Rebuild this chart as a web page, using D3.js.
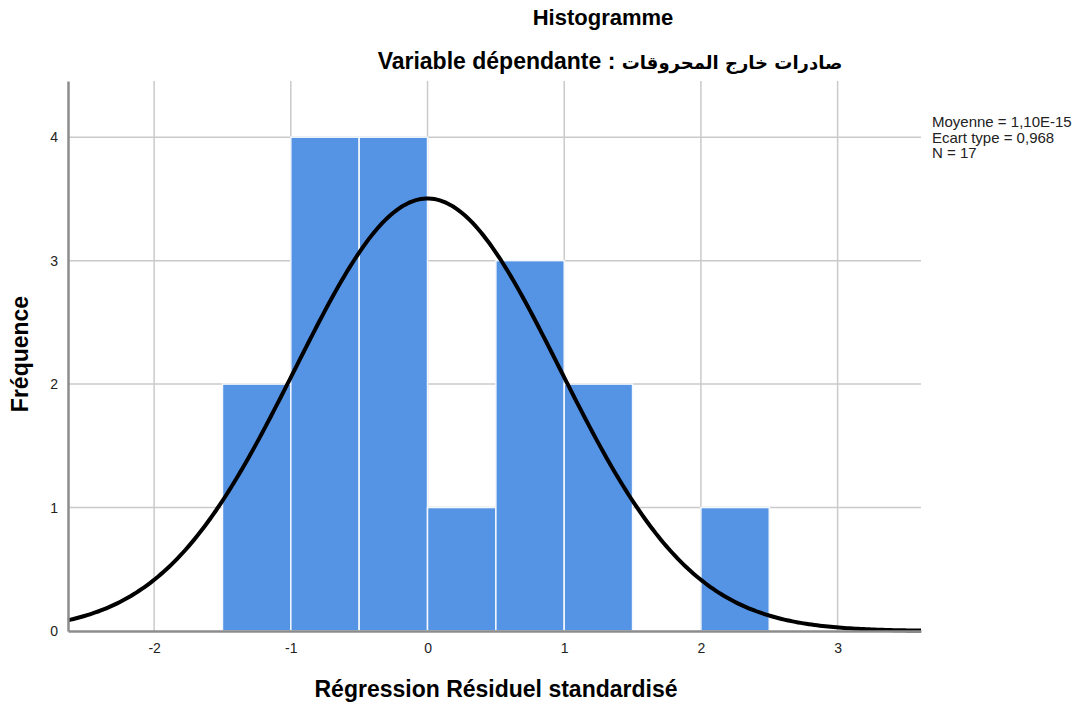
<!DOCTYPE html>
<html>
<head>
  <meta charset="utf-8">
  <title>Histogramme</title>
  <script src="https://d3js.org/d3.v7.min.js"></script>
  <style>
    html, body { margin: 0; padding: 0; background: #fff; overflow: hidden; }
    svg { display: block; }
    text { font-family: "Liberation Sans", Arial, "DejaVu Sans", sans-serif; }
  </style>
</head>
<body>
  <svg width="1082" height="708" id="mainsvg"></svg>
  <script>
    // bins of standardized residuals (width 0.5) and their counts
    const binStarts = [-1.5, -1, -0.5, 0, 0.5, 1, 2];
    const binCounts = [2, 4, 4, 1, 3, 2, 1];
    const binWidth = 0.5;
    const xTicks = [-2, -1, 0, 1, 2, 3];
    const yTicks = [0, 1, 2, 3, 4];
    const meanVal = 1.10e-15, sdVal = 0.968, nVal = 17;
    const legendLines = ['Moyenne = 1,10E-15', 'Ecart type = 0,968', 'N = 17'];

    const svg = d3.select('#mainsvg');
    const margin = { top: 81, right: 161, bottom: 77, left: 68 };
    const innerWidth = 1082 - margin.left - margin.right;
    const innerHeight = 708 - margin.top - margin.bottom;

    const xScale = d3.scaleLinear().domain([-2.63, 3.61]).range([0, innerWidth]);
    const yScale = d3.scaleLinear().domain([0, 4.455]).range([innerHeight, 0]);

    const g = svg.append('g').attr('transform', `translate(${margin.left}, ${margin.top})`);

    // grid
    g.selectAll('.vgrid').data(xTicks).join('line')
      .attr('x1', d => xScale(d)).attr('x2', d => xScale(d))
      .attr('y1', 0).attr('y2', innerHeight)
      .attr('stroke', '#cacaca').attr('stroke-width', 1.5);
    g.selectAll('.hgrid').data(yTicks.slice(1)).join('line')
      .attr('x1', 0).attr('x2', innerWidth)
      .attr('y1', d => yScale(d)).attr('y2', d => yScale(d))
      .attr('stroke', '#cacaca').attr('stroke-width', 1.5);

    // bars
    g.selectAll('.bar').data(binStarts).join('rect')
      .attr('x', d => xScale(d))
      .attr('width', d => xScale(d + binWidth) - xScale(d))
      .attr('y', (d, i) => yScale(binCounts[i]))
      .attr('height', (d, i) => innerHeight - yScale(binCounts[i]))
      .attr('fill', '#5594e4')
      .attr('stroke', '#f4f8fd').attr('stroke-width', 1.5);

    // normal curve from the stated mean / sd / N
    const curveXs = d3.range(-2.63, 3.615, 0.02);
    const pdf = x => nVal * binWidth / (sdVal * Math.sqrt(2 * Math.PI)) *
      Math.exp(-0.5 * Math.pow((x - meanVal) / sdVal, 2));
    g.append('path')
      .datum(curveXs)
      .attr('d', d3.line().x(d => xScale(d)).y(d => yScale(pdf(d))))
      .attr('fill', 'none').attr('stroke', '#000').attr('stroke-width', 4);

    // axes
    const xAxis = d3.axisBottom(xScale).tickValues(xTicks).tickSize(0).tickPadding(12)
      .tickFormat(d => d < 0 ? '-' + Math.abs(d) : d);
    const yAxis = d3.axisLeft(yScale).tickValues(yTicks).tickSize(0).tickPadding(10)
      .tickFormat(d3.format('d'));
    const xg = g.append('g').attr('transform', `translate(0, ${innerHeight})`).call(xAxis);
    const yg = g.append('g').call(yAxis);
    [xg, yg].forEach(a => {
      a.select('.domain').attr('stroke', '#8c8c8c').attr('stroke-width', 2.5);
      a.selectAll('text').attr('font-size', 14).attr('fill', '#222')
        .attr('font-family', '"Liberation Sans", Arial, sans-serif');
    });

    // titles
    svg.append('text').text('Histogramme')
      .attr('x', 603).attr('y', 25).attr('text-anchor', 'middle')
      .attr('font-size', 22).attr('font-weight', 'bold');
    const sub = svg.append('text')
      .attr('x', 610).attr('y', 69).attr('text-anchor', 'middle')
      .attr('direction', 'ltr').attr('font-weight', 'bold');
    sub.append('tspan').text('Variable dépendante : ').attr('font-size', 23);
    sub.append('tspan').text('صادرات خارج المحروقات')
      .attr('font-size', 18).attr('font-family', '"DejaVu Sans", sans-serif');
    svg.append('text').text('Régression Résiduel standardisé')
      .attr('x', 496).attr('y', 697).attr('text-anchor', 'middle')
      .attr('font-size', 23).attr('font-weight', 'bold');
    svg.append('text').text('Fréquence')
      .attr('transform', 'translate(28, 354) rotate(-90)').attr('text-anchor', 'middle')
      .attr('font-size', 23).attr('font-weight', 'bold');

    // legend
    svg.append('g').selectAll('text').data(legendLines).join('text')
      .text(d => d)
      .attr('x', 932).attr('y', (d, i) => 127 + i * 15.5)
      .attr('font-size', 15).attr('fill', '#222');
  </script>
</body>
</html>
